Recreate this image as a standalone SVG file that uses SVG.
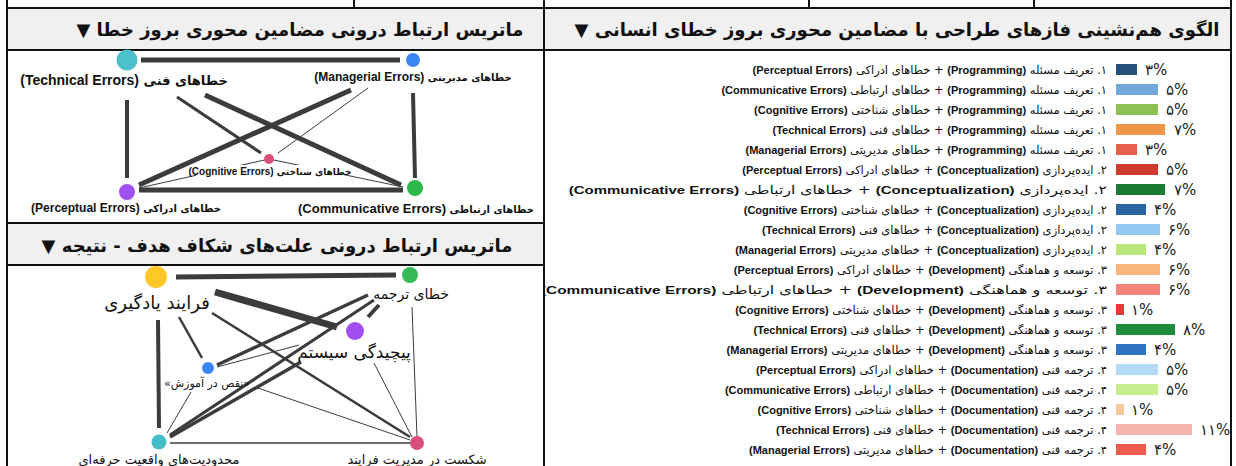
<svg xmlns="http://www.w3.org/2000/svg" width="1236" height="466" viewBox="0 0 1236 466">
<defs>
<clipPath id="rc"><rect x="545" y="50" width="686" height="416"/></clipPath>
</defs>
<style>
.frame{stroke:#111;stroke-width:2;fill:none}
.hdrbg{fill:#f0f0f0}
.hdr{font-family:"DejaVu Sans",sans-serif;font-weight:bold;font-size:18px;fill:#111}
.lbl{font-family:"Liberation Sans","DejaVu Sans",sans-serif;fill:#111}
.en{font-weight:bold}
.fa{font-family:"DejaVu Sans",sans-serif;font-weight:bold}
.g2{font-family:"DejaVu Sans",sans-serif;fill:#111}
.row{font-family:"DejaVu Sans",sans-serif;font-size:11.5px;fill:#111}
.ren{font-family:"Liberation Sans",sans-serif;font-weight:bold;font-size:11px}
.pct{font-family:"DejaVu Sans",sans-serif;font-size:15px;fill:#222}
.e{stroke:#3c3c3c;stroke-linecap:butt;fill:none}
</style>
<rect width="1236" height="466" fill="#fff"/>
<rect class="hdrbg" x="7" y="8" width="537" height="42"/>
<rect class="hdrbg" x="544" y="8" width="687" height="42"/>
<rect class="hdrbg" x="7" y="223" width="537" height="42"/>
<g id="frame">
<line class="frame" x1="7" y1="8" x2="1231" y2="8"/>
<line class="frame" x1="7" y1="50" x2="1231" y2="50"/>
<line class="frame" x1="7" y1="223" x2="544" y2="223"/>
<line class="frame" x1="7" y1="265" x2="544" y2="265"/>
<line class="frame" x1="7" y1="0" x2="7" y2="466"/>
<line class="frame" x1="544" y1="0" x2="544" y2="466"/>
<line class="frame" x1="1231" y1="0" x2="1231" y2="466"/>
<line class="frame" x1="354" y1="0" x2="354" y2="8"/>
<line class="frame" x1="809" y1="0" x2="809" y2="8"/>
<line class="frame" x1="1034" y1="0" x2="1034" y2="8"/>
</g>
<text class="hdr" x="300" y="36" text-anchor="middle" direction="rtl">ماتریس ارتباط درونی مضامین محوری بروز خطا ▼</text>
<text class="hdr" x="897" y="36" text-anchor="middle" direction="rtl">الگوی هم‌نشینی فازهای طراحی با مضامین محوری بروز خطای انسانی ▼</text>
<text class="hdr" x="277" y="252" text-anchor="middle" direction="rtl" font-size="20">ماتریس ارتباط درونی علت‌های شکاف هدف - نتیجه ▼</text>

<g id="connectors1">
<line class="e" x1="141" y1="60" x2="400" y2="60" stroke-width="5"/>
<line class="e" x1="127" y1="100" x2="127" y2="178" stroke-width="4"/>
<line class="e" x1="413" y1="93" x2="415" y2="178" stroke-width="4"/>
<line class="e" x1="177" y1="97" x2="261" y2="153" stroke-width="3"/>
<line class="e" x1="205" y1="95" x2="401" y2="185" stroke-width="5"/>
<line class="e" x1="351" y1="90" x2="139" y2="185" stroke-width="5"/>
<line class="e" x1="368" y1="88" x2="278" y2="153" stroke-width="1"/>
<line class="e" x1="139" y1="190" x2="403" y2="190" stroke-width="5"/>
<line class="e" x1="139" y1="188" x2="269" y2="159" stroke-width="1"/>
<line class="e" x1="269" y1="159" x2="403" y2="187" stroke-width="1"/>
</g>
<g id="n-technical">
<circle cx="127" cy="60" r="10.5" fill="#4bbfcb"/>
<text class="lbl" x="124" y="85" text-anchor="middle" direction="rtl"><tspan class="fa" font-size="13">خطاهای فنی </tspan><tspan class="en" font-size="14">(Technical Errors)</tspan></text>
</g>
<g id="n-managerial">
<circle cx="413" cy="60" r="7" fill="#3a86f5"/>
<text class="lbl" x="413" y="81" text-anchor="middle" direction="rtl"><tspan class="fa" font-size="10">خطاهای مدیریتی </tspan><tspan class="en" font-size="12">(Managerial Errors)</tspan></text>
</g>
<g id="n-cognitive">
<circle cx="269" cy="159" r="5" fill="#d9507a"/>
<rect x="196" y="165" width="148" height="13" fill="#fff"/>
<text class="lbl" x="270" y="175" text-anchor="middle" direction="rtl"><tspan class="fa" font-size="9">خطاهای شناختی </tspan><tspan class="en" font-size="10">(Cognitive Errors)</tspan></text>
</g>
<g id="n-perceptual">
<circle cx="127" cy="192" r="8" fill="#a050f0"/>
<text class="lbl" x="126" y="212" text-anchor="middle" direction="rtl"><tspan class="fa" font-size="10">خطاهای ادراکی </tspan><tspan class="en" font-size="12">(Perceptual Errors)</tspan></text>
</g>
<g id="n-communicative">
<circle cx="415" cy="188" r="8" fill="#2db84c"/>
<text class="lbl" x="416" y="213" text-anchor="middle" direction="rtl"><tspan class="fa" font-size="10">خطاهای ارتباطی </tspan><tspan class="en" font-size="13">(Communicative Errors)</tspan></text>
</g>

<g id="connectors2">
<line class="e" x1="176" y1="277" x2="396" y2="275" stroke-width="5"/>
<line class="e" x1="215" y1="292" x2="337" y2="327" stroke-width="7"/>
<line class="e" x1="379" y1="305" x2="368" y2="317" stroke-width="4"/>
<line class="e" x1="158" y1="320" x2="159" y2="428" stroke-width="4"/>
<line class="e" x1="179" y1="317" x2="202" y2="358" stroke-width="2.5"/>
<line class="e" x1="212" y1="313" x2="410" y2="437" stroke-width="2.5"/>
<line class="e" x1="368" y1="295" x2="217" y2="365" stroke-width="3.5"/>
<line class="e" x1="374" y1="300" x2="170" y2="435" stroke-width="3"/>
<line class="e" x1="301" y1="362" x2="170" y2="437" stroke-width="3.5"/>
<line class="e" x1="217" y1="367" x2="299" y2="345" stroke-width="1"/>
<line class="e" x1="255" y1="387" x2="410" y2="440" stroke-width="1"/>
<line class="e" x1="191" y1="392" x2="167" y2="433" stroke-width="1"/>
<line class="e" x1="374" y1="363" x2="412" y2="437" stroke-width="1"/>
<line class="e" x1="412" y1="307" x2="417" y2="437" stroke-width="1"/>
<line class="e" x1="170" y1="443" x2="410" y2="443" stroke-width="1.5"/>
</g>
<g id="n-learning">
<circle cx="156" cy="277" r="11" fill="#ffc727"/>
<text class="g2" x="157" y="309" font-size="18" text-anchor="middle" direction="rtl">فرایند یادگیری</text>
</g>
<g id="n-translation">
<circle cx="410" cy="275" r="8" fill="#36b957"/>
<text class="g2" x="411" y="299" font-size="14" text-anchor="middle" direction="rtl">خطای ترجمه</text>
</g>
<g id="n-complexity">
<circle cx="355" cy="331" r="9" fill="#a14ef0"/>
<text class="g2" x="354" y="358" font-size="17" text-anchor="middle" direction="rtl">پیچیدگی سیستم</text>
</g>
<g id="n-training">
<circle cx="208" cy="368" r="6" fill="#3a86f5"/>
<text class="g2" x="207" y="387" font-size="11" text-anchor="middle" direction="rtl">«نقص در آموزش»</text>
</g>
<g id="n-constraints">
<circle cx="159" cy="442" r="7.5" fill="#47bcc9"/>
<text class="g2" x="159" y="464" font-size="13" text-anchor="middle" direction="rtl">محدودیت‌های واقعیت حرفه‌ای</text>
</g>
<g id="n-failure">
<circle cx="417" cy="443" r="7" fill="#d94f7c"/>
<text class="g2" x="417" y="464" font-size="13" text-anchor="middle" direction="rtl">شکست در مدیریت فرایند</text>
</g>

<g id="chart">
<g class="row" text-anchor="start" direction="rtl" clip-path="url(#rc)">
<text x="1107" y="74">۱. تعریف مسئله <tspan class="ren">(Programming)</tspan> + خطاهای ادراکی <tspan class="ren">(Perceptual Errors)</tspan></text>
<text x="1107" y="94">۱. تعریف مسئله <tspan class="ren">(Programming)</tspan> + خطاهای ارتباطی <tspan class="ren">(Communicative Errors)</tspan></text>
<text x="1107" y="114">۱. تعریف مسئله <tspan class="ren">(Programming)</tspan> + خطاهای شناختی <tspan class="ren">(Cognitive Errors)</tspan></text>
<text x="1107" y="134">۱. تعریف مسئله <tspan class="ren">(Programming)</tspan> + خطاهای فنی <tspan class="ren">(Technical Errors)</tspan></text>
<text x="1107" y="154">۱. تعریف مسئله <tspan class="ren">(Programming)</tspan> + خطاهای مدیریتی <tspan class="ren">(Managerial Errors)</tspan></text>
<text x="1107" y="174">۲. ایده‌پردازی <tspan class="ren">(Conceptualization)</tspan> + خطاهای ادراکی <tspan class="ren">(Perceptual Errors)</tspan></text>
<text x="1107" y="194" transform="translate(1107 0) scale(1.36 1) translate(-1107 0)">۲. ایده‌پردازی <tspan class="ren">(Conceptualization)</tspan> + خطاهای ارتباطی <tspan class="ren">(Communicative Errors)</tspan></text>
<text x="1107" y="214">۲. ایده‌پردازی <tspan class="ren">(Conceptualization)</tspan> + خطاهای شناختی <tspan class="ren">(Cognitive Errors)</tspan></text>
<text x="1107" y="234">۲. ایده‌پردازی <tspan class="ren">(Conceptualization)</tspan> + خطاهای فنی <tspan class="ren">(Technical Errors)</tspan></text>
<text x="1107" y="254">۲. ایده‌پردازی <tspan class="ren">(Conceptualization)</tspan> + خطاهای مدیریتی <tspan class="ren">(Managerial Errors)</tspan></text>
<text x="1107" y="274">۳. توسعه و هماهنگی <tspan class="ren">(Development)</tspan> + خطاهای ادراکی <tspan class="ren">(Perceptual Errors)</tspan></text>
<text x="1107" y="294" transform="translate(1107 0) scale(1.40 1) translate(-1107 0)">۳. توسعه و هماهنگی <tspan class="ren">(Development)</tspan> + خطاهای ارتباطی <tspan class="ren">(Communicative Errors)</tspan></text>
<text x="1107" y="314">۳. توسعه و هماهنگی <tspan class="ren">(Development)</tspan> + خطاهای شناختی <tspan class="ren">(Cognitive Errors)</tspan></text>
<text x="1107" y="334">۳. توسعه و هماهنگی <tspan class="ren">(Development)</tspan> + خطاهای فنی <tspan class="ren">(Technical Errors)</tspan></text>
<text x="1107" y="354">۳. توسعه و هماهنگی <tspan class="ren">(Development)</tspan> + خطاهای مدیریتی <tspan class="ren">(Managerial Errors)</tspan></text>
<text x="1107" y="374">۴. ترجمه فنی <tspan class="ren">(Documentation)</tspan> + خطاهای ادراکی <tspan class="ren">(Perceptual Errors)</tspan></text>
<text x="1107" y="394">۴. ترجمه فنی <tspan class="ren">(Documentation)</tspan> + خطاهای ارتباطی <tspan class="ren">(Communicative Errors)</tspan></text>
<text x="1107" y="414">۴. ترجمه فنی <tspan class="ren">(Documentation)</tspan> + خطاهای شناختی <tspan class="ren">(Cognitive Errors)</tspan></text>
<text x="1107" y="434">۴. ترجمه فنی <tspan class="ren">(Documentation)</tspan> + خطاهای فنی <tspan class="ren">(Technical Errors)</tspan></text>
<text x="1107" y="454">۴. ترجمه فنی <tspan class="ren">(Documentation)</tspan> + خطاهای مدیریتی <tspan class="ren">(Managerial Errors)</tspan></text>
</g>
<rect x="1116" y="64" width="21" height="11" fill="#24527a"/>
<rect x="1116" y="84" width="42" height="11" fill="#72a9da"/>
<rect x="1116" y="104" width="42" height="11" fill="#8dc153"/>
<rect x="1116" y="124" width="49" height="11" fill="#f0954a"/>
<rect x="1116" y="144" width="21" height="11" fill="#e8604c"/>
<rect x="1116" y="164" width="42" height="11" fill="#cf3b2c"/>
<rect x="1116" y="184" width="49" height="11" fill="#1a7a33"/>
<rect x="1116" y="204" width="30" height="11" fill="#2c64a0"/>
<rect x="1116" y="224" width="44" height="11" fill="#94c9f2"/>
<rect x="1116" y="244" width="30" height="11" fill="#b9e77a"/>
<rect x="1116" y="264" width="44" height="11" fill="#f8b57c"/>
<rect x="1116" y="284" width="44" height="11" fill="#f4857a"/>
<rect x="1116" y="304" width="8" height="11" fill="#e33b3b"/>
<rect x="1116" y="324" width="59" height="11" fill="#1e8c3a"/>
<rect x="1116" y="344" width="30" height="11" fill="#2f75c0"/>
<rect x="1116" y="364" width="42" height="11" fill="#b3daf7"/>
<rect x="1116" y="384" width="42" height="11" fill="#c6ee8e"/>
<rect x="1116" y="404" width="8" height="11" fill="#f5c99a"/>
<rect x="1116" y="424" width="76" height="11" fill="#f5b3ae"/>
<rect x="1116" y="444" width="30" height="11" fill="#ee5a4e"/>
<g class="pct">
<text x="1145" y="75">۳%</text>
<text x="1166" y="95">۵%</text>
<text x="1166" y="115">۵%</text>
<text x="1174" y="135">۷%</text>
<text x="1145" y="155">۳%</text>
<text x="1166" y="175">۵%</text>
<text x="1174" y="195">۷%</text>
<text x="1154" y="215">۴%</text>
<text x="1168" y="235">۶%</text>
<text x="1154" y="255">۴%</text>
<text x="1168" y="275">۶%</text>
<text x="1168" y="295">۶%</text>
<text x="1131" y="315">۱%</text>
<text x="1183" y="335">۸%</text>
<text x="1154" y="355">۴%</text>
<text x="1166" y="375">۵%</text>
<text x="1166" y="395">۵%</text>
<text x="1131" y="415">۱%</text>
<text x="1200" y="435">۱۱%</text>
<text x="1154" y="455">۴%</text>
</g>
</g>
</svg>
